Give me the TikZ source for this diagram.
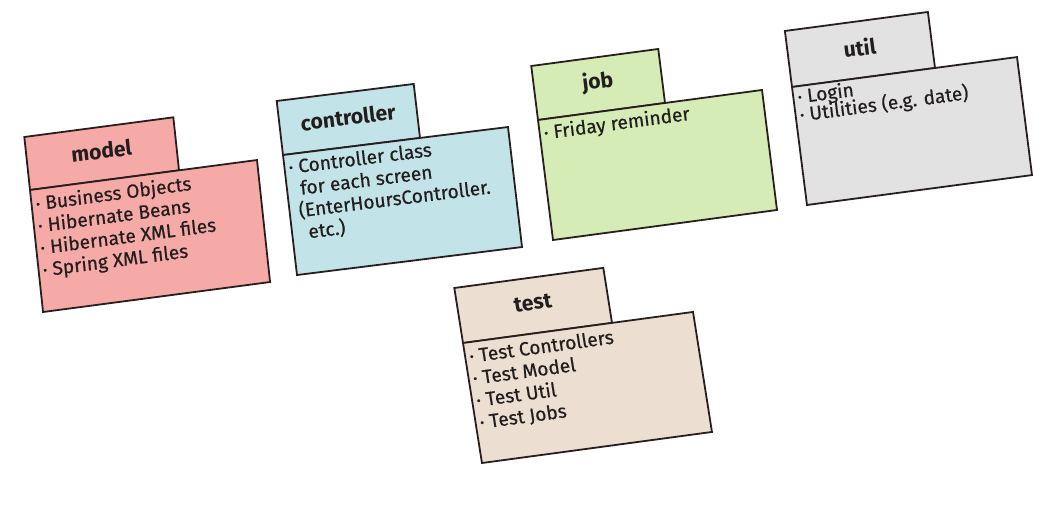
\documentclass[tikz,border=0pt]{standalone}
\usepackage{fontspec}
\setmainfont{Fira Sans}
\newfontfamily\itemfont{Fira Sans}[FakeBold=0.5]
\definecolor{modelc}{RGB}{245,170,168}
\definecolor{ctrlc}{RGB}{194,227,232}
\definecolor{jobc}{RGB}{214,236,182}
\definecolor{utilc}{RGB}{226,226,226}
\definecolor{testc}{RGB}{236,222,208}
\definecolor{edgec}{RGB}{40,30,30}
\definecolor{ink}{RGB}{35,30,30}
\tikzset{
  pkgline/.style={draw=edgec, line width=1.8pt, line join=miter},
  pkgtitle/.style={font=\bfseries\fontsize{21}{22}\selectfont, text=ink, inner sep=0pt},
  pkgitems/.style={font=\itemfont\fontsize{19}{22}\selectfont, text=ink, align=left, anchor=north west, inner sep=0pt},
}
\begin{document}
\begin{tikzpicture}[x=1pt,y=1pt]
\useasboundingbox[fill=white] (0,0) rectangle (1059,515);
% model
\begin{scope}[cm={1,0.132,-0.107,1,(30,325)}, transform shape]
  \draw[pkgline, fill=modelc] (0,0) rectangle (149,53);
  \draw[pkgline, fill=modelc] (0,0) rectangle (227,-122);
  \node[pkgtitle] (model-title) at (74.5,29) {model};
  \node[pkgitems] (model-items) at (4,-6) {· Business Objects\\· Hibernate Beans\\· Hibernate XML files\\· Spring XML files};
\end{scope}
% controller
\begin{scope}[cm={1,0.1244,-0.1167,1,(283,360)}, transform shape]
  \draw[pkgline, fill=ctrlc] (0,0) rectangle (137,54);
  \draw[pkgline, fill=ctrlc] (0,0) rectangle (225,-120);
  \node[pkgtitle] (ctrl-title) at (68.5,29) {controller};
  \node[pkgitems] (ctrl-items) at (4,-5) {· Controller class\\\hspace*{9pt}for each screen\\\hspace*{5pt}(EnterHoursController.\\\hspace*{12pt}etc.)};
\end{scope}
% job
\begin{scope}[cm={1,0.134,-0.125,1,(538,395)}, transform shape]
  \draw[pkgline, fill=jobc] (0,0) rectangle (127,54);
  \draw[pkgline, fill=jobc] (0,0) rectangle (224,-120);
  \node[pkgtitle] (job-title) at (63.5,29) {job};
  \node[pkgitems] (job-items) at (4,-5) {· Friday reminder};
\end{scope}
% util
\begin{scope}[cm={1,0.133,-0.127,1,(792,428)}, transform shape]
  \draw[pkgline, fill=utilc] (0,0) rectangle (143,56);
  \draw[pkgline, fill=utilc] (0,0) rectangle (225,-118);
  \node[pkgtitle] (util-title) at (71.5,30) {util};
  \node[pkgitems] (util-items) at (4,-2) {· Login\\[-4pt]· Utilities (e.g. date)};
\end{scope}
% test
\begin{scope}[cm={1,0.135,-0.158,1,(463,172)}, transform shape]
  \draw[pkgline, fill=testc] (0,0) rectangle (149,55);
  \draw[pkgline, fill=testc] (0,0) rectangle (230,-120);
  \node[pkgtitle] (test-title) at (74.5,30) {test};
  \node[pkgitems] (test-items) at (4,-6) {· Test Controllers\\· Test Model\\· Test Util\\· Test Jobs};
\end{scope}
\end{tikzpicture}
\end{document}
